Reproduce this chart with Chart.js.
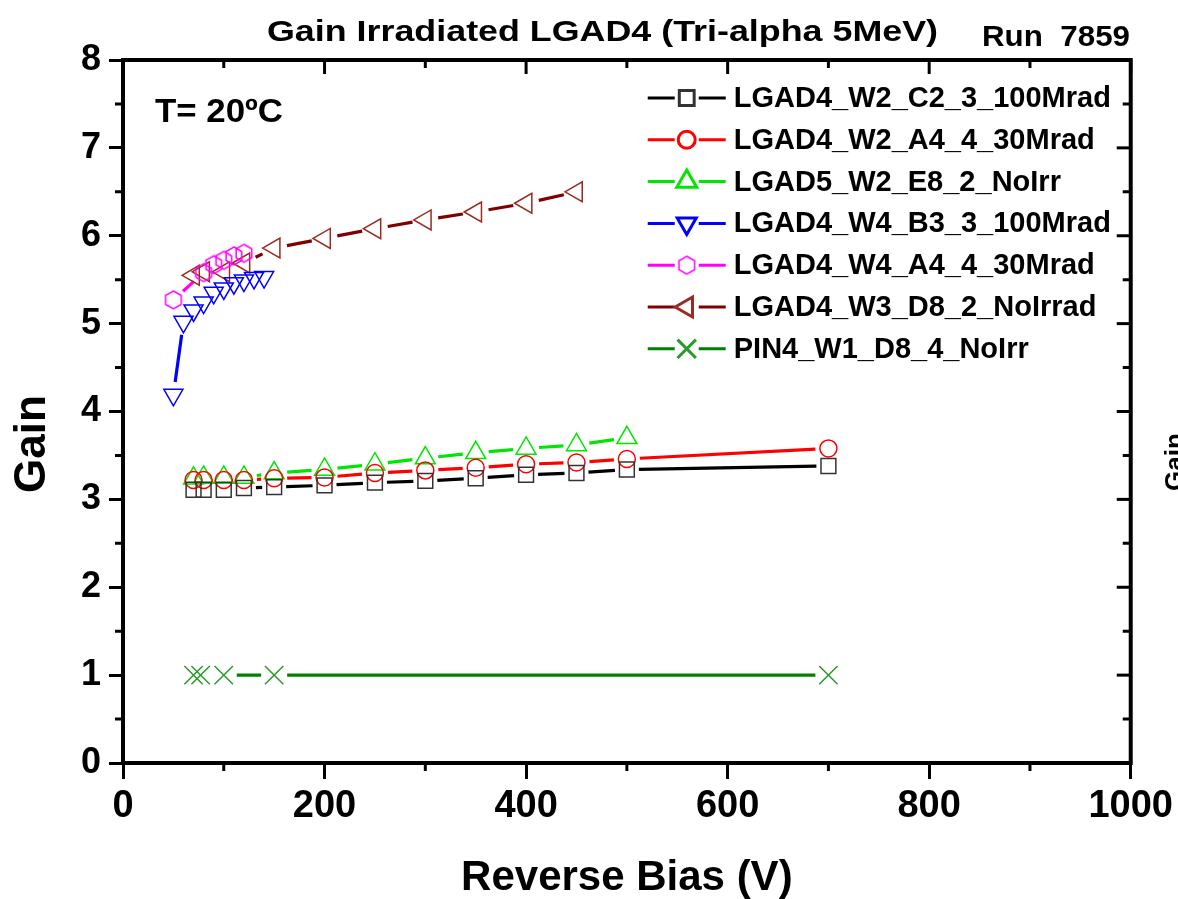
<!DOCTYPE html>
<html lang="en">
<head>
  <meta charset="UTF-8" />
  <title>Gain Irradiated LGAD4 (Tri-alpha 5MeV)</title>
  <script src="https://cdn.jsdelivr.net/npm/chart.js"></script>
  <style>
    html, body { margin: 0; padding: 0; background: #fff; }
  </style>
</head>
<body>
  <canvas id="gainChart" width="1178" height="899"></canvas>

  <script>
    // values (bias in V, gain)
    const biasC2 = [70, 80, 100, 120, 150, 200, 250, 300, 350, 400, 450, 500, 700];
    const gainC2 = [3.11, 3.11, 3.11, 3.13, 3.14, 3.16, 3.19, 3.21, 3.24, 3.28, 3.30, 3.34, 3.38];

    const biasA4 = [70, 80, 100, 120, 150, 200, 250, 300, 350, 400, 450, 500, 700];
    const gainA4 = [3.22, 3.22, 3.22, 3.22, 3.24, 3.25, 3.30, 3.33, 3.36, 3.40, 3.42, 3.46, 3.58];

    const biasE8 = [70, 80, 100, 120, 150, 200, 250, 300, 350, 400, 450, 500];
    const gainE8 = [3.24, 3.25, 3.25, 3.25, 3.30, 3.34, 3.40, 3.47, 3.53, 3.58, 3.62, 3.70];

    const biasB3 = [50, 60, 70, 80, 90, 100, 110, 120, 130, 140];
    const gainB3 = [4.19, 5.02, 5.15, 5.24, 5.35, 5.40, 5.46, 5.49, 5.52, 5.53];

    const biasW4A4 = [50, 80, 90, 100, 110, 120];
    const gainW4A4 = [5.27, 5.58, 5.67, 5.72, 5.77, 5.80];

    const biasD8 = [70, 80, 100, 120, 150, 200, 250, 300, 350, 400, 450];
    const gainD8 = [5.55, 5.59, 5.59, 5.69, 5.86, 5.97, 6.08, 6.18, 6.27, 6.37, 6.50];

    const biasPin = [70, 77, 100, 150, 700];
    const gainPin = [1.0, 1.0, 1.0, 1.0, 1.0];

    const seriesNames = [
      "LGAD4_W2_C2_3_100Mrad",
      "LGAD4_W2_A4_4_30Mrad",
      "LGAD5_W2_E8_2_NoIrr",
      "LGAD4_W4_B3_3_100Mrad",
      "LGAD4_W4_A4_4_30Mrad",
      "LGAD4_W3_D8_2_NoIrrad",
      "PIN4_W1_D8_4_NoIrr"
    ];

    const xTicks = [0, 200, 400, 600, 800, 1000];
    const yTicks = [0, 1, 2, 3, 4, 5, 6, 7, 8];

    const FONT = "'Liberation Sans', Arial, sans-serif";

    function hexagon(color, r) {
      const c = document.createElement("canvas");
      c.width = c.height = 2 * r + 4;
      const g = c.getContext("2d");
      g.strokeStyle = color;
      g.lineWidth = 1.5;
      g.beginPath();
      for (let k = 0; k < 6; k++) {
        const a = Math.PI / 3 * k - Math.PI / 2;
        const px = c.width / 2 + r * Math.cos(a), py = c.height / 2 + r * Math.sin(a);
        if (k === 0) g.moveTo(px, py); else g.lineTo(px, py);
      }
      g.closePath();
      g.stroke();
      return c;
    }

    function toXY(xs, ys) {
      return xs.map((x, i) => ({ x: x, y: ys[i] }));
    }

    function series(i, xs, ys, lineColor, markColor, style, radius, rotation, gap) {
      return {
        label: seriesNames[i],
        data: toXY(xs, ys),
        showLine: false,
        lineColor: lineColor,
        lineGap: gap,
        pointStyle: style,
        pointRotation: rotation,
        pointRadius: radius,
        pointHoverRadius: radius,
        pointBorderWidth: 1.5,
        pointBorderColor: markColor,
        pointBackgroundColor: "rgba(0,0,0,0)",
        borderColor: lineColor
      };
    }

    const datasets = [
      series(0, biasC2, gainC2, "#000000", "#333333", "rect", 10.5, 0, 12),
      series(1, biasA4, gainA4, "#ff0000", "#ff0000", "circle", 8.5, 0, 13),
      series(2, biasE8, gainE8, "#00e600", "#00e600", "triangle", 11.5, 0, 13),
      series(3, biasB3, gainB3, "#0000ff", "#0000ff", "triangle", 11, 180, 13),
      series(4, biasW4A4, gainW4A4, "#ff00ff", "#ff00ff", hexagon("#ff00ff", 9), 9, 0, 13),
      series(5, biasD8, gainD8, "#800000", "#9a2a22", "triangle", 11.5, -90, 13),
      series(6, biasPin, gainPin, "#008000", "#2a9a2a", "crossRot", 13, 0, 13)
    ];

    // Origin-style lines that stop short of each marker
    const gapLines = {
      id: "gapLines",
      beforeDatasetsDraw(chart) {
        const ctx = chart.ctx, area = chart.chartArea;
        ctx.save();
        ctx.beginPath();
        ctx.rect(area.left, area.top, area.width, area.height);
        ctx.clip();
        ctx.lineWidth = 3.2;
        ctx.lineCap = "butt";
        chart.data.datasets.forEach((ds, i) => {
          const pts = chart.getDatasetMeta(i).data;
          ctx.strokeStyle = ds.lineColor;
          for (let k = 1; k < pts.length; k++) {
            const a = pts[k - 1], b = pts[k];
            const dx = b.x - a.x, dy = b.y - a.y;
            const len = Math.hypot(dx, dy);
            if (len <= 2 * ds.lineGap + 2) continue;
            const ux = dx / len, uy = dy / len;
            ctx.beginPath();
            ctx.moveTo(a.x + ux * ds.lineGap, a.y + uy * ds.lineGap);
            ctx.lineTo(b.x - ux * ds.lineGap, b.y - uy * ds.lineGap);
            ctx.stroke();
          }
        });
        ctx.restore();
      }
    };

    // box frame, minor ticks, inward ticks on top/right
    const frame = {
      id: "frame",
      afterDraw(chart) {
        const ctx = chart.ctx, a = chart.chartArea;
        const xs = chart.scales.x, ys = chart.scales.y;
        ctx.save();
        ctx.strokeStyle = "#000";
        ctx.lineWidth = 4;
        ctx.beginPath();
        ctx.moveTo(a.left - 2, a.top);
        ctx.lineTo(a.right, a.top);
        ctx.lineTo(a.right, a.bottom + 2);
        ctx.stroke();
        ctx.lineWidth = 3;
        for (let v = 0; v <= 1000; v += 100) {
          const px = xs.getPixelForValue(v);
          const major = v % 200 === 0;
          ctx.beginPath();
          ctx.moveTo(px, a.top);
          ctx.lineTo(px, a.top + (major ? 14 : 8));
          if (!major) {
            ctx.moveTo(px, a.bottom);
            ctx.lineTo(px, a.bottom + 8);
          }
          ctx.stroke();
        }
        for (let v = 0; v <= 8; v += 0.5) {
          const py = ys.getPixelForValue(v);
          const major = v % 1 === 0;
          ctx.beginPath();
          ctx.moveTo(a.right, py);
          ctx.lineTo(a.right - (major ? 14 : 8), py);
          if (!major) {
            ctx.moveTo(a.left, py);
            ctx.lineTo(a.left - 8, py);
          }
          ctx.stroke();
        }
        ctx.restore();
      }
    };

    function stretchedText(ctx, text, x, y, size, width) {
      ctx.font = "bold " + size + "px " + FONT;
      const w = ctx.measureText(text).width;
      ctx.save();
      ctx.translate(x, y);
      ctx.scale(width / w, 1);
      ctx.fillText(text, 0, 0);
      ctx.restore();
    }

    // titles, notes and the line+marker legend
    const annotations = {
      id: "annotations",
      afterDraw(chart) {
        const ctx = chart.ctx, a = chart.chartArea;
        ctx.save();
        ctx.fillStyle = "#000";
        ctx.textAlign = "left";
        ctx.textBaseline = "alphabetic";
        stretchedText(ctx, "Gain Irradiated LGAD4 (Tri-alpha 5MeV)", 267, 41, 30, 671);
        stretchedText(ctx, "Run  7859", 982, 46, 29, 148);
        stretchedText(ctx, "T= 20ºC", 155, 122, 33, 128);

        ctx.font = "bold 44px " + FONT;
        ctx.save();
        ctx.translate(45, 444);
        ctx.rotate(-Math.PI / 2);
        ctx.textAlign = "center";
        ctx.fillText("Gain", 0, 0);
        ctx.restore();

        ctx.font = "bold 26px " + FONT;
        ctx.save();
        ctx.translate(1183, 462);
        ctx.rotate(-Math.PI / 2);
        ctx.textAlign = "center";
        ctx.fillText("Gain", 0, 0);
        ctx.restore();

        const lx = a.right - 483;
        chart.data.datasets.forEach((ds, i) => {
          const y = a.top + 38 + i * 41.8;
          ctx.strokeStyle = ds.lineColor;
          ctx.lineWidth = 3;
          ctx.beginPath();
          ctx.moveTo(lx, y); ctx.lineTo(lx + 27, y);
          ctx.moveTo(lx + 51, y); ctx.lineTo(lx + 78, y);
          ctx.stroke();
          ctx.strokeStyle = ds.pointBorderColor;
          ctx.fillStyle = "rgba(0,0,0,0)";
          Chart.helpers.drawPoint(ctx, {
            pointStyle: ds.pointStyle,
            rotation: ds.pointRotation,
            radius: ds.pointRadius,
            borderWidth: 1.5
          }, lx + 39, y);
          ctx.fillStyle = "#000";
          ctx.font = "bold 29px " + FONT;
          ctx.textBaseline = "middle";
          ctx.fillText(ds.label, lx + 86, y + 1);
        });
        ctx.restore();
      }
    };

    new Chart(document.getElementById("gainChart"), {
      type: "scatter",
      data: { datasets: datasets },
      options: {
        responsive: false,
        animation: false,
        events: [],
        layout: { padding: { top: 60, right: 46, left: 0, bottom: 0 } },
        plugins: { legend: { display: false }, tooltip: { enabled: false } },
        scales: {
          x: {
            type: "linear",
            min: 0,
            max: 1000,
            afterFit: s => { s.height = 136; },
            afterBuildTicks: s => { s.ticks = xTicks.map(v => ({ value: v })); },
            border: { display: true, color: "#000", width: 4 },
            grid: { display: true, drawOnChartArea: false, color: "#000", tickLength: 16, tickWidth: 3 },
            ticks: {
              color: "#000",
              padding: 5,
              font: { family: FONT, size: 38, weight: "bold" },
              callback: v => String(v)
            },
            title: {
              display: true,
              text: "Reverse Bias (V)",
              color: "#000",
              padding: { top: 0, bottom: 0 },
              font: { family: FONT, size: 42, weight: "bold", lineHeight: 1 }
            }
          },
          y: {
            type: "linear",
            min: 0,
            max: 8,
            afterFit: s => { s.width = 123; },
            afterBuildTicks: s => { s.ticks = yTicks.map(v => ({ value: v })); },
            border: { display: true, color: "#000", width: 4 },
            grid: { display: true, drawOnChartArea: false, color: "#000", tickLength: 14, tickWidth: 3 },
            ticks: {
              color: "#000",
              padding: 8,
              font: { family: FONT, size: 36, weight: "bold" },
              callback: v => String(v)
            }
          }
        }
      },
      plugins: [gapLines, frame, annotations]
    });
  </script>
</body>
</html>
